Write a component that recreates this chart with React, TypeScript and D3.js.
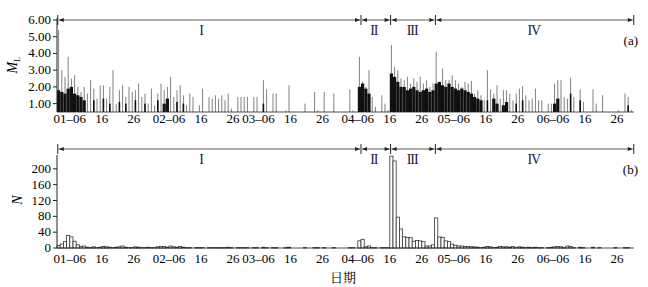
import React from "react";
import * as d3 from "d3";

// days run from 2013-01-02 to 2013-06-30 (one value per day)
const START = Date.UTC(2013, 0, 2);
const END = Date.UTC(2013, 6, 1);

// daily largest magnitude (0 = no event)
const mlMaxJan = [5.4, 3.0, 2.6, 3.8, 2.5, 2.7, 2.0, 1.7, 2.0, 1.6, 2.4, 1.9, 1.3, 2.1, 2.1, 1.3, 2.0, 3.0, 1.0, 1.8, 2.1, 1.4, 2.0, 1.7, 1.8, 2.2, 1.4, 1.6, 1.0, 1.9];
const mlMaxFeb = [0.9, 1.6, 2.2, 1.8, 2.0, 2.6, 1.4, 1.8, 2.1, 1.5, 0.9, 1.6, 1.4, 0, 0.9, 1.9, 0, 1.4, 1.3, 1.5, 1.3, 1.5, 1.2, 1.6, 0.7, 0, 1.4, 1.4];
const mlMaxMar = [1.4, 1.4, 0, 1.4, 1.4, 0, 2.4, 1.85, 0, 1.6, 1.6, 0, 0, 0.6, 2.1, 0, 0, 0, 0, 1.0, 0, 0, 1.7, 0.6, 0, 1.7, 0, 0, 1.6, 0, 0];
const mlMaxApr = [0, 0, 1.85, 0.6, 0, 3.8, 2.3, 2.0, 3.0, 1.4, 0.8, 0, 1.5, 1.0, 0.6, 4.5, 3.2, 3.0, 2.5, 2.4, 2.6, 2.2, 2.5, 2.3, 2.6, 2.2, 2.4, 2.0, 2.2, 4.1];
const mlMaxMay = [2.3, 3.1, 2.4, 2.4, 2.7, 2.4, 2.2, 2.0, 2.3, 2.2, 2.35, 1.6, 1.8, 1.5, 1.2, 3.0, 1.85, 1.6, 2.1, 1.3, 1.8, 1.8, 1.6, 1.2, 1.6, 1.9, 2.05, 1.5, 1.2, 1.3, 1.9];
const mlMaxJun = [1.2, 1.2, 0, 1.0, 1.0, 2.2, 2.4, 2.4, 1.4, 1.3, 2.55, 1.4, 0, 1.85, 1.1, 0, 0, 1.85, 1.0, 0, 1.5, 0, 0, 0, 0, 0.6, 0, 1.6, 1.4, 0.6];

// height reached by the dense (black) part of each day
const mlBulkJan = [1.8, 1.7, 1.6, 1.9, 2.0, 1.6, 1.5, 1.4, 1.2, 0, 0, 1.2, 0, 0, 1.3, 0, 1.0, 0, 0, 1.1, 0, 1.0, 0, 0, 1.2, 0, 0, 1.0, 0, 0];
const mlBulkFeb = [0, 1.2, 0, 1.0, 1.3, 0, 0, 1.1, 0, 1.0, 0, 0, 0, 0, 0, 0, 0, 0, 0, 0, 0, 0, 0, 0, 0, 0, 0, 0];
const mlBulkMar = [0, 0, 0, 0, 0, 0, 1.0, 0, 0, 0, 0, 0, 0, 0, 0, 0, 0, 0, 0, 0, 0, 0, 0, 0, 0, 0, 0, 0, 0, 0, 0];
const mlBulkApr = [0, 0, 0, 0, 0, 2.0, 2.2, 1.9, 1.6, 0, 0, 0, 0, 0, 0, 2.8, 2.6, 2.3, 2.0, 2.0, 1.8, 1.9, 2.0, 1.8, 1.7, 1.8, 1.9, 1.7, 1.8, 2.2];
const mlBulkMay = [2.3, 2.1, 2.0, 2.2, 2.0, 1.9, 1.8, 1.9, 1.8, 1.7, 1.6, 1.4, 1.3, 1.2, 0, 1.2, 0, 1.3, 1.0, 0, 0.9, 1.1, 0, 0, 1.0, 0, 1.2, 0, 0, 0, 0];
const mlBulkJun = [0, 0, 0, 0, 0, 1.0, 1.3, 0, 0, 0, 1.6, 0, 0, 1.2, 0, 0, 0, 0, 0, 0, 0, 0, 0, 0, 0, 0, 0, 0, 0.9, 0];

// daily number of events
const nJan = [6, 10, 16, 32, 28, 17, 8, 4, 5, 2, 1, 3, 1, 2, 4, 3, 2, 1, 2, 3, 5, 2, 1, 1, 3, 2, 1, 1, 2, 1];
const nFeb = [1, 3, 4, 4, 2, 5, 3, 2, 4, 2, 1, 1, 0, 1, 1, 1, 0, 1, 1, 1, 1, 1, 1, 2, 1, 0, 1, 1];
const nMar = [1, 1, 0, 1, 1, 0, 2, 1, 0, 1, 1, 0, 0, 1, 2, 0, 0, 0, 0, 1, 0, 0, 1, 1, 0, 1, 0, 0, 1, 0, 0];
const nApr = [0, 0, 1, 1, 0, 18, 22, 3, 5, 1, 1, 0, 1, 1, 1, 232, 220, 78, 48, 28, 27, 26, 17, 19, 18, 16, 5, 5, 8, 76];
const nMay = [28, 27, 18, 16, 10, 7, 5, 5, 4, 4, 3, 3, 2, 1, 2, 4, 3, 1, 2, 4, 3, 3, 2, 4, 1, 3, 2, 1, 2, 1, 2];
const nJun = [1, 1, 0, 1, 2, 3, 4, 3, 1, 5, 4, 1, 0, 2, 1, 0, 0, 2, 0, 1, 0, 0, 0, 0, 1, 0, 0, 1, 1, 0];

const tickDates = ["2013-01-06", "2013-01-16", "2013-01-26", "2013-02-06", "2013-02-16", "2013-02-26",
  "2013-03-06", "2013-03-16", "2013-03-26", "2013-04-06", "2013-04-16", "2013-04-26",
  "2013-05-06", "2013-05-16", "2013-05-26", "2013-06-06", "2013-06-16", "2013-06-26"];
const tickLabels = ["01–06", "16", "26", "02–06", "16", "26", "03–06", "16", "26",
  "04–06", "16", "26", "05–06", "16", "26", "06–06", "16", "26"];

const stageNames = ["I", "II", "III", "IV"];
const stageBounds = ["2013-01-02T06:00Z", "2013-04-07T00:00Z", "2013-04-16T06:00Z", "2013-04-30T06:00Z", "2013-07-01T06:00Z"];
const stageLabelAt = ["2013-02-16", "2013-04-11T00:00Z", "2013-04-23", "2013-05-31"];

const mlTicks = [1, 2, 3, 4, 5, 6];
const nTicks = [0, 40, 80, 120, 160, 200];

const W = 648, H = 287;
const serif = { fontFamily: "'Liberation Serif', 'Times New Roman', 'DejaVu Serif', serif" };

const days = d3.utcDay.range(new Date(START), new Date(END));
const mlMax = [...mlMaxJan, ...mlMaxFeb, ...mlMaxMar, ...mlMaxApr, ...mlMaxMay, ...mlMaxJun];
const mlBulk = [...mlBulkJan, ...mlBulkFeb, ...mlBulkMar, ...mlBulkApr, ...mlBulkMay, ...mlBulkJun];
const counts = [...nJan, ...nFeb, ...nMar, ...nApr, ...nMay, ...nJun];

const x = d3.scaleUtc().domain([new Date(START), new Date(END)]).range([57, 633]);
const yTop = d3.scaleLinear().domain([0.5, 6]).range([112, 20]);
const yBot = d3.scaleLinear().domain([0, 235]).range([248, 155]);

const Brackets = ({ y, label }: { y: number; label: string }) => {
  const xs = stageBounds.map((d) => x(new Date(d)));
  return (
    <g>
      {xs.map((bx, i) => (
        <line key={"t" + i} x1={bx} x2={bx} y1={y - 5} y2={y + 5} stroke="#222" strokeWidth={1} />
      ))}
      {xs.slice(0, -1).map((bx, i) => {
        const ex = xs[i + 1];
        return (
          <g key={"s" + i}>
            <line x1={bx + 1} x2={ex - 1} y1={y} y2={y} stroke="#333" strokeWidth={0.8} />
            <path d={`M${bx + 1},${y} l5,-2 l0,4 z`} fill="#222" />
            <path d={`M${ex - 1},${y} l-5,-2 l0,4 z`} fill="#222" />
          </g>
        );
      })}
      {stageNames.map((s, i) => (
        <text key={"n" + i} x={x(new Date(stageLabelAt[i]))} y={y + 15} textAnchor="middle"
          style={{ ...serif, letterSpacing: "-1px" }} fontSize={14} fill="#1a1a40">{s}</text>
      ))}
      <text x={638} y={y + 25} textAnchor="end" style={serif} fontSize={13}>{label}</text>
    </g>
  );
};

const XLabels = ({ y }: { y: number }) => (
  <g>
    {tickDates.map((d, i) => (
      <text key={i} x={x(new Date(d + "T00:00Z"))} y={y} textAnchor="middle"
        style={serif} fontSize={13}>{tickLabels[i]}</text>
    ))}
  </g>
);

export default function App() {
  const dw = x(new Date(START + 86400000)) - x(new Date(START));
  const dense = (i: number) => mlBulk[i] > 0 && ((mlBulk[i - 1] ?? 0) > 0 || (mlBulk[i + 1] ?? 0) > 0);
  return (
    <svg width={W} height={H} style={{ position: "absolute", left: 0, top: 0, background: "#fff" }}>
      {/* panel (a) */}
      <g>
        {days.map((d, i) => mlMax[i] > 0 ? (
          <line key={"m" + i} x1={x(d) + dw / 2} x2={x(d) + dw / 2} y1={yTop(0.5)} y2={yTop(mlMax[i])}
            stroke="#808080" strokeWidth={1} />
        ) : null)}
        {days.map((d, i) => mlBulk[i] > 0 ? (
          dense(i) ? (
            <rect key={"b" + i} x={x(d)} y={yTop(mlBulk[i])} width={dw} height={yTop(0.5) - yTop(mlBulk[i])} fill="#111" />
          ) : (
            <rect key={"b" + i} x={x(d) + dw / 2 - 0.8} y={yTop(mlBulk[i])} width={1.6} height={yTop(0.5) - yTop(mlBulk[i])} fill="#111" />
          )
        ) : null)}
        <line x1={57} x2={57} y1={18} y2={112} stroke="#222" />
        <line x1={57} x2={634} y1={112} y2={112} stroke="#222" strokeWidth={0.8} />
        {mlTicks.map((t) => (
          <g key={t}>
            <line x1={53} x2={57} y1={yTop(t)} y2={yTop(t)} stroke="#222" />
            <text x={51} y={yTop(t) + 4} textAnchor="end" style={serif} fontSize={13}>{t.toFixed(2)}</text>
          </g>
        ))}
        <text transform="translate(17,65) rotate(-90)" textAnchor="middle" style={serif} fontSize={14}>
          <tspan fontStyle="italic">M</tspan><tspan fontSize={9} dy={3}>L</tspan>
        </text>
        <Brackets y={20} label="(a)" />
        <XLabels y={123} />
      </g>
      {/* panel (b) */}
      <g>
        {days.map((d, i) => counts[i] > 0 ? (
          <rect key={"c" + i} x={x(d)} y={yBot(counts[i])} width={dw} height={yBot(0) - yBot(counts[i])}
            fill="#fff" stroke="#333" strokeWidth={0.8} />
        ) : null)}
        <line x1={57} x2={57} y1={155} y2={248} stroke="#222" />
        <line x1={57} x2={634} y1={248} y2={248} stroke="#222" strokeWidth={0.8} />
        {nTicks.map((t) => (
          <g key={t}>
            <line x1={53} x2={57} y1={yBot(t)} y2={yBot(t)} stroke="#222" />
            <text x={51} y={yBot(t) + 4} textAnchor="end" style={serif} fontSize={13}>{t}</text>
          </g>
        ))}
        <text transform="translate(22,200) rotate(-90)" textAnchor="middle" style={serif} fontSize={14} fontStyle="italic">N</text>
        <Brackets y={149} label="(b)" />
        <XLabels y={263} />
        <text x={343} y={282} textAnchor="middle" fontFamily="'Noto Serif CJK SC', 'Noto Sans CJK SC', serif" fontSize={13}>日期</text>
      </g>
    </svg>
  );
}
